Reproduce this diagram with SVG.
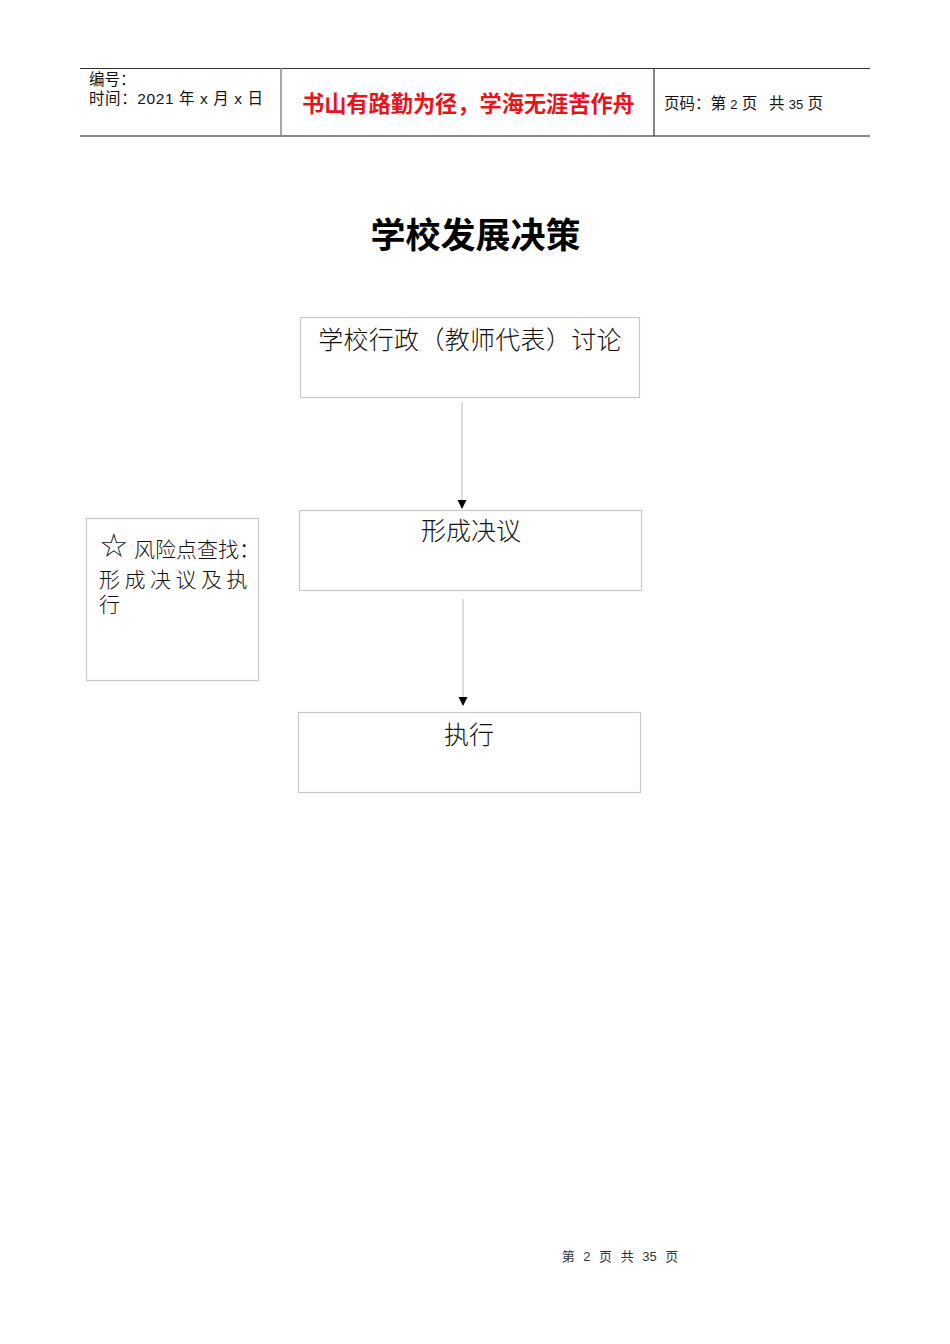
<svg xmlns="http://www.w3.org/2000/svg" width="950" height="1344" viewBox="0 0 950 1344">
<style>
.hdr{font-family:"Liberation Sans","Noto Sans CJK SC",sans-serif;font-size:15.5px;fill:#111}
.box{fill:#fff;stroke:#c8c8c8;stroke-width:1.2}
.lbl{font-family:"Noto Sans CJK SC",sans-serif;font-weight:300;font-size:25px;fill:#111}
.risk{font-family:"Noto Sans CJK SC",sans-serif;font-weight:300;font-size:21px;fill:#111}
.conn{stroke:#c8c8c8;stroke-width:1.2;fill:none}
</style>
<defs>
<marker id="arr" markerWidth="10" markerHeight="10" refX="8" refY="5" orient="auto" markerUnits="userSpaceOnUse">
<path d="M0,0.5 L9,5 L0,9.5 Z" fill="#000"/>
</marker>
</defs>
<rect width="950" height="1344" fill="#fff"/>
<g id="header">
<line x1="80" y1="68.5" x2="870" y2="68.5" stroke="#333" stroke-width="1.2"/>
<line x1="80" y1="136" x2="870" y2="136" stroke="#888" stroke-width="2"/>
<line x1="281" y1="68" x2="281" y2="136" stroke="#888" stroke-width="1.5"/>
<line x1="654" y1="68" x2="654" y2="136" stroke="#333" stroke-width="1.2"/>
<text class="hdr" x="89" y="85">编号：</text>
<text class="hdr" x="89" y="104" letter-spacing="0.6">时间：2021 年 x 月 x 日</text>
<text x="302" y="112" font-family="Noto Sans CJK SC,sans-serif" font-weight="bold" font-size="22.2" fill="#e8141c">书山有路勤为径，学海无涯苦作舟</text>
<text class="hdr" x="664" y="109">页码：第 <tspan font-size="13">2</tspan> 页</text>
<text class="hdr" x="769" y="109">共 <tspan font-size="13">35</tspan> 页</text>
</g>
<g id="title">
<text x="475.5" y="248" text-anchor="middle" font-family="Noto Sans CJK SC,sans-serif" font-weight="bold" font-size="35" fill="#000">学校发展决策</text>
</g>
<g id="connectors">
<line class="conn" x1="462" y1="402" x2="462" y2="508" marker-end="url(#arr)"/>
<line class="conn" x1="463" y1="599" x2="463" y2="705" marker-end="url(#arr)"/>
</g>
<g id="node1">
<rect class="box" x="300.5" y="317.5" width="339" height="80"/>
<text class="lbl" x="470" y="349" text-anchor="middle" letter-spacing="0.3">学校行政（教师代表）讨论</text>
</g>
<g id="node2">
<rect class="box" x="299.5" y="510.5" width="342" height="80"/>
<text class="lbl" x="471" y="540" text-anchor="middle">形成决议</text>
</g>
<g id="node3">
<rect class="box" x="298.5" y="712.5" width="342" height="80"/>
<text class="lbl" x="469" y="744" text-anchor="middle">执行</text>
</g>
<g id="risk">
<rect class="box" x="86.5" y="518.5" width="172" height="162"/>
<text x="99" y="557" font-family="DejaVu Sans,sans-serif" font-size="33" fill="#111">☆</text>
<text class="risk" x="134" y="557">风险点查找：</text>
<text class="risk" x="99" y="587" letter-spacing="4.5">形成决议及执</text>
<text class="risk" x="99" y="612">行</text>
</g>
<g id="footer">
<text x="620" y="1261" text-anchor="middle" font-family="Liberation Sans,Noto Sans CJK SC,sans-serif" font-size="13" fill="#333" word-spacing="5">第 2 页 共 35 页</text>
</g>
</svg>
